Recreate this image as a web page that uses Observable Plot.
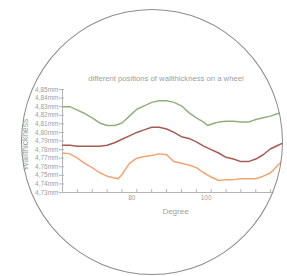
<!DOCTYPE html>
<html>
<head>
<meta charset="utf-8">
<script src="https://cdn.jsdelivr.net/npm/d3@7"></script>
<script src="https://cdn.jsdelivr.net/npm/@observablehq/plot@0.6"></script>
<style>
  html, body { margin: 0; padding: 0; background: #fff; }
  #wrap { position: relative; width: 287px; height: 276px; overflow: hidden; }
  #clip { position: absolute; left: 0; top: 0; width: 287px; height: 276px;
          clip-path: ellipse(131px 133px at 152px 142px); }
  #lens { position: absolute; left: 21px; top: 9px; width: 262px; height: 266px;
          border: 1px solid #8c8c8c; border-radius: 50%; box-sizing: border-box; pointer-events: none; }
</style>
</head>
<body>
<div id="wrap"><div id="clip"></div><div id="lens"></div></div>
<script>
const title = "different positions of wallthickness on a wheel";
const xLabel = "Degree";
const yLabel = "Wallthickness";
const yTicks = [4.73, 4.74, 4.75, 4.76, 4.77, 4.78, 4.79, 4.80, 4.81, 4.82, 4.83, 4.84, 4.85];
const xMinorTicks = [60, 64, 68, 72, 76, 80, 84, 88, 92, 96, 100, 104, 108, 112, 116, 120];
const xLabelTicks = [80, 100];

const topDeg = [60,62,64,66,68,70,72,74,76,78,80,82,84,86,88,90,92,94,96,98,99,101,102,104,106,108,110,112,114,116,118,120];
const topVal = [4.830,4.830,4.826,4.822,4.817,4.811,4.808,4.808,4.811,4.819,4.827,4.831,4.835,4.837,4.837,4.835,4.831,4.823,4.817,4.812,4.808,4.811,4.812,4.813,4.813,4.812,4.812,4.815,4.817,4.819,4.822,4.826];

const midDeg = [60,62,64,66,68,70,72,74,76,78,80,82,84,86,88,90,92,94,96,98,100,102,104,106,108,110,112,114,116,118,120];
const midVal = [4.785,4.785,4.784,4.784,4.784,4.784,4.785,4.788,4.792,4.796,4.800,4.803,4.806,4.806,4.804,4.800,4.795,4.793,4.789,4.784,4.780,4.776,4.771,4.769,4.766,4.766,4.769,4.774,4.781,4.785,4.789];

const lowDeg = [60,62,64,66,68,70,72,74,75,76,78,80,82,84,86,88,90,92,94,96,98,100,102,104,106,108,110,112,114,116,118,120];
const lowVal = [4.776,4.775,4.770,4.764,4.759,4.753,4.749,4.747,4.746,4.751,4.764,4.770,4.772,4.773,4.775,4.774,4.766,4.764,4.762,4.759,4.753,4.748,4.744,4.745,4.745,4.746,4.746,4.746,4.749,4.753,4.762,4.770];

const seriesNames = ["position A", "position B", "position C"];
const seriesColors = ["#92b07a", "#a65b52", "#f2a474"];

const rows = [];
[[topDeg, topVal], [midDeg, midVal], [lowDeg, lowVal]].forEach(([ds, vs], i) => {
  ds.forEach((d, j) => rows.push({series: seriesNames[i], deg: d, val: vs[j]}));
});

const fmt = d => d.toFixed(2).replace(".", ",") + "mm";
const font = "'Liberation Sans', Arial, sans-serif";

const chart = Plot.plot({
  width: 287,
  height: 276,
  marginLeft: 62,
  marginRight: 2,
  marginTop: 89,
  marginBottom: 84,
  style: {fontFamily: font, color: "#a0a0a0", background: "transparent"},
  x: {domain: [60, 120]},
  y: {domain: [4.73, 4.85]},
  color: {type: "ordinal", domain: seriesNames, range: seriesColors},
  marks: [
    Plot.axisY({ticks: yTicks, tickFormat: fmt, tickSize: 3, tickPadding: 1, fontSize: 6.5, stroke: "#b5b5b5", label: null}),
    Plot.ruleY(yTicks, {y: d => d, stroke: "#b5b5b5", insetRight: 221}),
    Plot.ruleX(xMinorTicks, {x: d => d, stroke: "#b5b5b5", insetTop: 100}),
    Plot.axisX({ticks: xLabelTicks, tickFormat: d => String(d), tickSize: 0, tickPadding: 3, dx: -5, fontSize: 6.5, label: null}),
    Plot.ruleX([60], {stroke: "#b5b5b5"}),
    Plot.ruleY([4.73], {stroke: "#b5b5b5"}),
    Plot.line(rows, {x: "deg", y: "val", z: "series", stroke: "series", strokeWidth: 1.5}),
    Plot.text([title], {text: d => d, frameAnchor: "top", textAnchor: "middle", lineAnchor: "middle", dy: -11, dx: -8, fontSize: 7.7, fill: "#a0a0a0"}),
    Plot.text([xLabel], {text: d => d, frameAnchor: "bottom", textAnchor: "middle", lineAnchor: "middle", dy: 19, dx: 1.5, fontSize: 8, fill: "#a0a0a0"}),
    Plot.text([yLabel], {text: d => d, frameAnchor: "left", textAnchor: "middle", lineAnchor: "middle", rotate: -90, dx: -37, dy: 3.5, fontSize: 8.5, fill: "#a0a0a0"})
  ]
});
document.getElementById("clip").appendChild(chart);
</script>
</body>
</html>
